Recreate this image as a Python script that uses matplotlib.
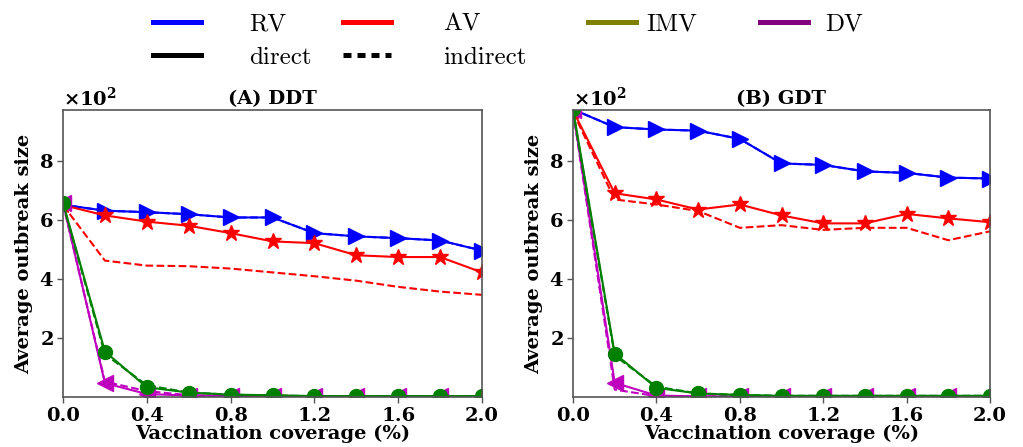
import matplotlib
matplotlib.use("Agg")
import matplotlib.pyplot as plt
from matplotlib.lines import Line2D

plt.rcParams["mathtext.fontset"] = "custom"
plt.rcParams["mathtext.rm"] = "DejaVu Serif:bold"
plt.rcParams["mathtext.bf"] = "DejaVu Serif:bold"
plt.rcParams["mathtext.default"] = "rm"

coverage = [0.0, 0.2, 0.4, 0.6, 0.8, 1.0, 1.2, 1.4, 1.6, 1.8, 2.0]

# Panel A: DDT
ddt_rv_direct = [651, 631, 626, 619, 608, 608, 555, 544, 538, 530, 496]
ddt_rv_indirect = [651, 631, 626, 619, 608, 608, 555, 544, 538, 530, 496]
ddt_av_direct = [650, 615, 594, 580, 555, 527, 521, 480, 474, 474, 422]
ddt_av_indirect = [650, 462, 445, 443, 435, 422, 409, 394, 373, 357, 346]
ddt_imv_direct = [658, 154, 33, 15, 8, 6, 3, 3, 3, 3, 3]
ddt_imv_indirect = [655, 145, 40, 15, 8, 5, 3, 3, 3, 3, 3]
ddt_dv_direct = [658, 47, 10, 5, 3, 2, 2, 2, 2, 2, 2]
ddt_dv_indirect = [655, 52, 20, 6, 3, 2, 2, 2, 2, 2, 2]

# Panel B: GDT
gdt_rv_direct = [974, 914, 906, 902, 874, 791, 786, 764, 759, 743, 740]
gdt_rv_indirect = [974, 914, 906, 902, 874, 791, 786, 764, 759, 743, 740]
gdt_av_direct = [970, 690, 669, 635, 652, 615, 588, 588, 620, 605, 592]
gdt_av_indirect = [965, 669, 652, 630, 573, 582, 566, 573, 573, 531, 561]
gdt_imv_direct = [975, 147, 31, 12, 7, 4, 4, 4, 4, 4, 4]
gdt_imv_indirect = [970, 140, 35, 12, 7, 4, 4, 4, 4, 4, 4]
gdt_dv_direct = [972, 48, 5, 2, 2, 2, 2, 2, 2, 2, 2]
gdt_dv_indirect = [968, 25, 3, 2, 2, 2, 2, 2, 2, 2, 2]

panel_titles = ["(A) DDT", "(B) GDT"]
legend_labels = ["RV", "AV", "IMV", "DV", "direct", "indirect"]
x_ticks = [0.0, 0.4, 0.8, 1.2, 1.6, 2.0]
y_ticks = [200, 400, 600, 800]

W, H = 1023, 447
fig = plt.figure(figsize=(W / 100, H / 100), dpi=100)

def fx(px):
    return px / W

def fy(py):
    return 1 - py / H

ax_boxes = [(63, 110, 482, 397), (573, 110, 990, 397)]
axes = []
for (l, t, r, b) in ax_boxes:
    axes.append(fig.add_axes([fx(l), fy(b), fx(r) - fx(l), fy(t) - fy(b)]))

panels = [
    (ddt_rv_direct, ddt_rv_indirect, ddt_av_direct, ddt_av_indirect,
     ddt_imv_direct, ddt_imv_indirect, ddt_dv_direct, ddt_dv_indirect),
    (gdt_rv_direct, gdt_rv_indirect, gdt_av_direct, gdt_av_indirect,
     gdt_imv_direct, gdt_imv_indirect, gdt_dv_direct, gdt_dv_indirect),
]

lab_font = dict(family="DejaVu Serif", weight="bold", size=14)

for ax, data, title in zip(axes, panels, panel_titles):
    rv_d, rv_i, av_d, av_i, imv_d, imv_i, dv_d, dv_i = data
    lw = 1.5
    ax.plot(coverage, rv_i, color="blue", ls="--", lw=lw)
    ax.plot(coverage, rv_d, color="blue", ls="-", lw=lw, marker=">", ms=12)
    ax.plot(coverage, av_i, color="red", ls="--", lw=lw)
    ax.plot(coverage, av_d, color="red", ls="-", lw=lw, marker="*", ms=12)
    ax.plot(coverage, dv_i, color="m", ls="--", lw=lw)
    ax.plot(coverage, dv_d, color="m", ls="-", lw=lw, marker="<", ms=11)
    ax.plot(coverage, imv_i, color="green", ls="--", lw=lw)
    ax.plot(coverage, imv_d, color="green", ls="-", lw=lw, marker="o", ms=10)

    ax.set_xlim(0, 2.0)
    ax.set_ylim(0, 972)
    ax.set_xticks(x_ticks)
    ax.set_yticks(y_ticks)
    ax.ticklabel_format(axis="y", style="sci", scilimits=(2, 2), useMathText=True)
    for lab in ax.get_xticklabels() + ax.get_yticklabels():
        lab.set_fontfamily("DejaVu Serif")
        lab.set_fontweight("bold")
        lab.set_fontsize(14)
    off = ax.yaxis.get_offset_text()
    off.set_fontfamily("DejaVu Serif")
    off.set_fontweight("bold")
    off.set_fontsize(14)
    ax.set_xlabel("Vaccination coverage (%)", labelpad=0, **lab_font)
    ax.set_ylabel("Average outbreak size", labelpad=4, **lab_font)
    ax.set_title(title, pad=4, family="DejaVu Serif", weight="bold", size=14)
    for sp in ax.spines.values():
        sp.set_color("#555555")
        sp.set_linewidth(1.2)
    ax.tick_params(length=4, width=1, color="#555555", pad=3)

# Legend: one column group per legend to match positions
leg_font = dict(family="cmr10", size=18)
col_specs = [
    (155, [Line2D([], [], color="blue", lw=3.6), Line2D([], [], color="black", lw=3.6)],
     [legend_labels[0], legend_labels[4]], 1.95),
    (345, [Line2D([], [], color="red", lw=3.6),
           Line2D([], [], color="black", lw=3.6, ls=(0, (1.6, 1.2)))],
     [legend_labels[1], legend_labels[5]], 2.1),
    (590, [Line2D([], [], color="olive", lw=3.6)], [legend_labels[2]], 0.45),
    (762, [Line2D([], [], color="purple", lw=3.6)], [legend_labels[3]], 0.7),
]
for x0, hs, ls_, pad in col_specs:
    leg = fig.legend(hs, ls_, loc="upper left", bbox_to_anchor=(fx(x0 - 2), fy(13)),
                     frameon=False, prop=leg_font, handlelength=1.9,
                     handletextpad=pad, borderpad=0, borderaxespad=0,
                     labelspacing=0.44)

fig.savefig("out.png", dpi=100)
